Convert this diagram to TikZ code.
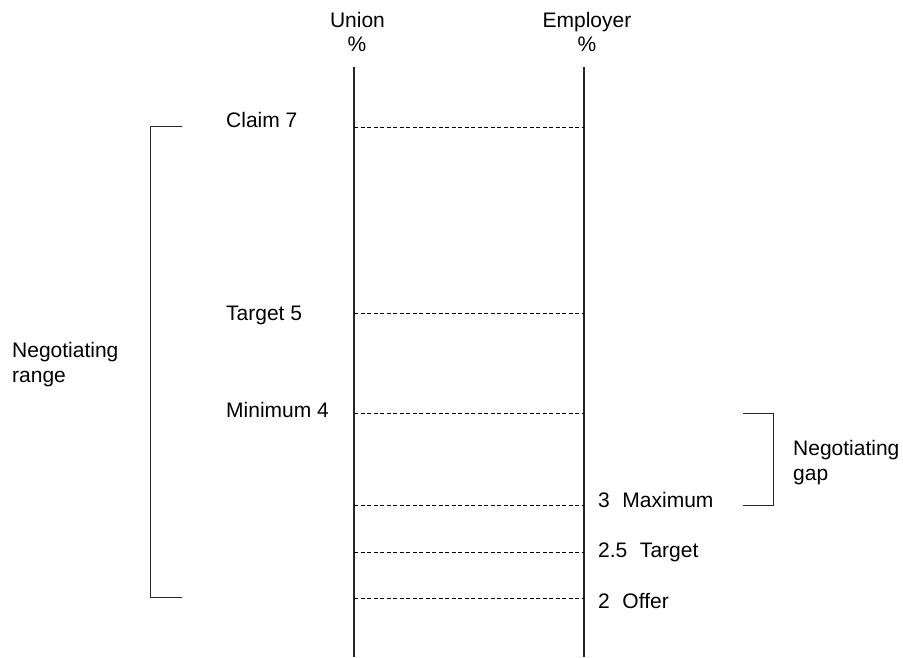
\documentclass[tikz,border=0pt]{standalone}
\usepackage{fontspec}
\setmainfont{Liberation Sans}
\begin{document}
\begin{tikzpicture}[x=1pt,y=-1pt,
  lbl/.style={inner sep=0pt,font=\fontsize{21}{25}\selectfont},
  axis/.style={line width=1.1pt,draw=black!85},
  level/.style={line width=0.8pt,dash pattern=on 4pt off 2.5pt},
  bracket/.style={line width=1pt,draw=black!85}]
\useasboundingbox (0,0) rectangle (903,658);
% axes
\coordinate (ut) at (354,67); \coordinate (ub) at (354,657);
\coordinate (et) at (584,67); \coordinate (eb) at (584,657);
\draw[axis] (ut) -- (ub);
\draw[axis] (et) -- (eb);
% headers
\node[lbl,anchor=base] (union) at (357.5,28) {Union};
\node[lbl,anchor=base] (upct) at (357,52) {\%};
\node[lbl,anchor=base] (empl) at (587,28) {Employer};
\node[lbl,anchor=base] (epct) at (587,52) {\%};
% levels
\foreach \n/\y in {a/127,b/313,c/413,d/505,e/552,f/598}{
  \coordinate (u\n) at (354,\y); \coordinate (e\n) at (584,\y);
  \draw[level] (u\n) -- (e\n);
}
% union labels
\node[lbl,anchor=base west] (claim) at (226,128) {Claim 7};
\node[lbl,anchor=base west] (utarget) at (226,320) {Target 5};
\node[lbl,anchor=base west] (umin) at (226,417) {Minimum 4};
% employer labels
\node[lbl,anchor=base west] (emax) at (598,507) {3\hspace{0.6em}Maximum};
\node[lbl,anchor=base west] (etarget) at (598,557) {2.5\hspace{0.6em}Target};
\node[lbl,anchor=base west] (eoffer) at (598,608) {2\hspace{0.6em}Offer};
% left bracket
\coordinate (lb1) at (182,127); \coordinate (lb2) at (150,127);
\coordinate (lb3) at (150,597); \coordinate (lb4) at (182,597);
\draw[bracket] (lb1) -- (lb2) -- (lb3) -- (lb4);
\node[lbl,anchor=base west,align=left] (range) at (12,382) {Negotiating\\range};
% right bracket
\coordinate (rb1) at (743,413); \coordinate (rb2) at (773,413);
\coordinate (rb3) at (773,505); \coordinate (rb4) at (743,505);
\draw[bracket] (rb1) -- (rb2) -- (rb3) -- (rb4);
\node[lbl,anchor=base west,align=left] (gap) at (793,480) {Negotiating\\gap};
\end{tikzpicture}
\end{document}
